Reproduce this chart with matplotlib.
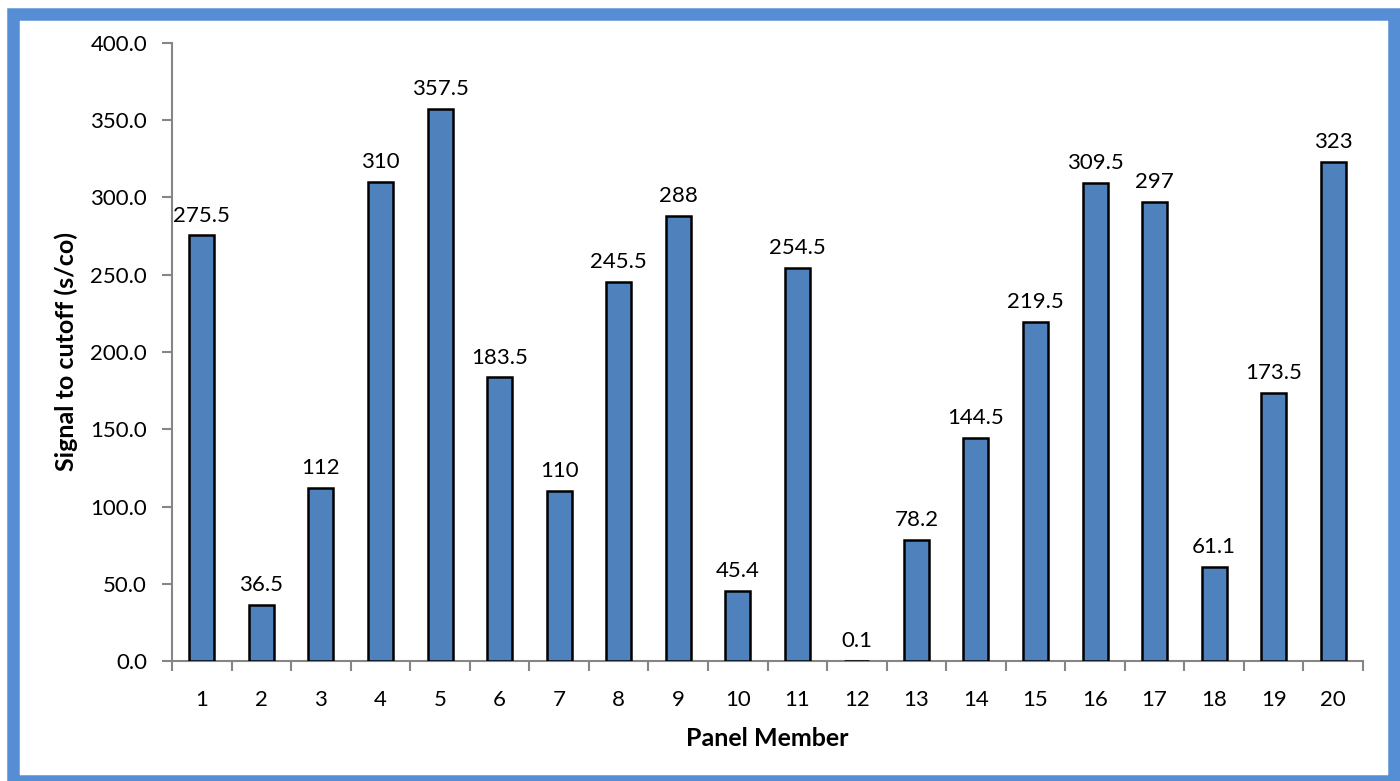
import matplotlib.pyplot as plt
from matplotlib.patches import Rectangle

# panel members and s/co values
members = list(range(1, 21))
values = [275.5, 36.5, 112, 310, 357.5, 183.5, 110, 245.5, 288, 45.4,
          254.5, 0.1, 78.2, 144.5, 219.5, 309.5, 297, 61.1, 173.5, 323]
labels = ['275.5', '36.5', '112', '310', '357.5', '183.5', '110', '245.5', '288', '45.4',
          '254.5', '0.1', '78.2', '144.5', '219.5', '309.5', '297', '61.1', '173.5', '323']
yticks = [0, 50, 100, 150, 200, 250, 300, 350, 400]

plt.rcParams['font.family'] = ['Lato', 'DejaVu Sans']

fig = plt.figure(figsize=(14, 7.81), dpi=100)
ax = fig.add_axes([0.1229, 0.1536, 0.8507, 0.7914])

bar_color = '#4F81BD'
axis_color = '#868686'

bars = ax.bar(members, values, width=0.42, color=bar_color, edgecolor='black', linewidth=1.8, zorder=3)
for b, lab in zip(bars, labels):
    ax.annotate(lab, xy=(b.get_x() + b.get_width() / 2, b.get_height()),
                xytext=(0, 7), textcoords='offset points', ha='center', va='bottom', fontsize=16)

ax.set_xlim(0.5, 20.5)
ax.set_ylim(0, 400)
ax.set_yticks(yticks)
ax.set_yticklabels(['%.1f' % t for t in yticks], fontsize=16)
ax.set_xticks(members)
ax.set_xticklabels([str(m) for m in members], fontsize=16)
ax.tick_params(axis='x', length=0, pad=21)
ax.tick_params(axis='y', length=7, width=1.5, color=axis_color, pad=11)

# category boundary ticks on the x axis
ax.set_xticks([m + 0.5 for m in range(0, 21)], minor=True)
ax.tick_params(axis='x', which='minor', length=7, width=1.5, color=axis_color)

for side in ['top', 'right']:
    ax.spines[side].set_visible(False)
for side in ['left', 'bottom']:
    ax.spines[side].set_color(axis_color)
    ax.spines[side].set_linewidth(1.5)

ax.set_xlabel('Panel Member', fontsize=18, fontweight='bold', labelpad=12)
ax.set_ylabel('Signal to cutoff (s/co)', fontsize=18, fontweight='bold', labelpad=9)

# blue frame around the figure, cut off at right and bottom
frame = Rectangle((13 / 1400, 0.5 / 781), (1394 - 13) / 1400, (767 - 0.5) / 781,
                  transform=fig.transFigure, fill=False, edgecolor='#558ED5',
                  linewidth=9, zorder=10, clip_on=False)
fig.patches.append(frame)

fig.savefig('out.png', dpi=100)
